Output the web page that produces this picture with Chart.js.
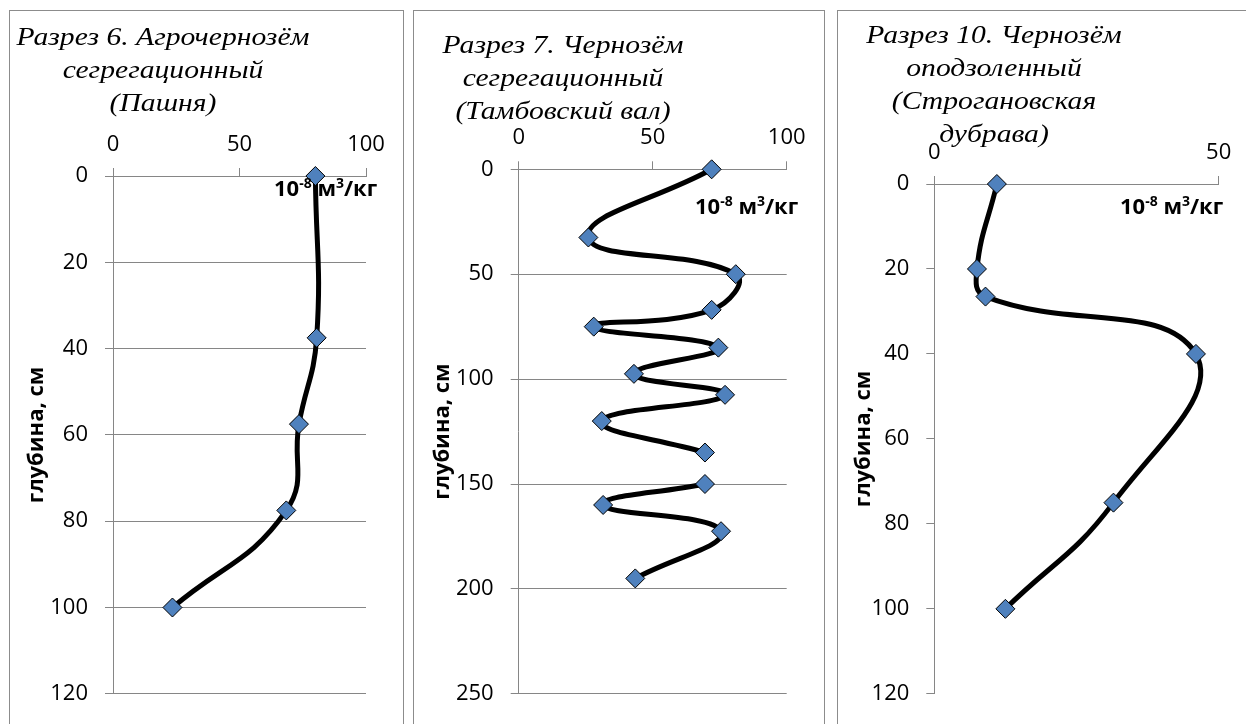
<!DOCTYPE html>
<html><head><meta charset="utf-8">
<script src="https://cdn.jsdelivr.net/npm/chart.js@4/dist/chart.umd.min.js"></script>
<style>
html,body{margin:0;padding:0;background:#fff;width:1246px;height:724px;overflow:hidden;position:relative;}
.panel{position:absolute;top:10px;height:760px;border:1px solid #8c8c8c;box-sizing:border-box;}
canvas{position:absolute;top:0;}
.title{position:absolute;width:400px;text-align:center;font-family:"Liberation Serif","Times New Roman",serif;font-style:italic;font-size:26px;line-height:33px;color:#000;white-space:nowrap;transform:scaleX(1.14);transform-origin:50% 0;}
.unit{position:absolute;font-family:"Open Sans",sans-serif;font-weight:bold;font-size:22px;color:#000;white-space:nowrap;line-height:22px;}
.unit sup{font-size:14px;line-height:0;vertical-align:8px;}
</style></head><body>
<div class="panel" style="left:9px;width:395px;"></div>
<div class="panel" style="left:413px;width:412px;"></div>
<div class="panel" style="left:837px;width:420px;"></div>
<canvas id="c1" width="410" height="724" style="left:0px"></canvas>
<canvas id="c2" width="418" height="724" style="left:410px"></canvas>
<canvas id="c3" width="416" height="724" style="left:830px"></canvas>
<div class="title" style="left:-37px;top:20px;">Разрез 6. Агрочернозём<br>сегрегационный<br>(Пашня)</div>
<div class="title" style="left:363px;top:28px;">Разрез 7. Чернозём<br>сегрегационный<br>(Тамбовский вал)</div>
<div class="title" style="left:794px;top:18px;">Разрез 10. Чернозём<br>оподзоленный<br>(Строгановская<br>дубрава)</div>
<div class="unit" style="left:274px;top:176px;">10<sup>-8</sup> м<sup>3</sup>/кг</div>
<div class="unit" style="left:695px;top:194px;">10<sup>-8</sup> м<sup>3</sup>/кг</div>
<div class="unit" style="left:1120px;top:194px;">10<sup>-8</sup> м<sup>3</sup>/кг</div>
<script>
// Разрез 6
const depth6 = [0, 37.5, 57.5, 77.5, 100];
const val6   = [80, 80.5, 73.5, 68.5, 23.5];
// Разрез 7 (null marks the break in the line between 135 and 150 cm)
const depth7 = [0, 32.5, 50, 67, 75, 85, 97.5, 107.5, 120, 135, null, 150, 160, 172.5, 195];
const val7   = [72, 26, 81, 72, 28, 74.5, 43, 77, 31, 69.5, null, 69.5, 31.5, 75.5, 43.5];
// Разрез 10
const depth10 = [0, 20, 26.5, 40, 75, 100];
const val10   = [11, 7.5, 9, 46, 31.5, 12.5];

const xTicks6 = [0, 50, 100];
const yTicks6 = [0, 20, 40, 60, 80, 100, 120];
const xTicks7 = [0, 50, 100];
const yTicks7 = [0, 50, 100, 150, 200, 250];
const xTicks10 = [0, 50];
const yTicks10 = [0, 20, 40, 60, 80, 100, 120];

const yTitle = 'глубина, см';
const GRID = '#868686';

function makeChart(id, xs, ys, xTicks, yTicks, box) {
  const cv = document.getElementById(id);
  const W = cv.width, H = cv.height;
  new Chart(cv, {
    type: 'scatter',
    data: { datasets: [{
      data: xs.map((x, i) => ({ x: x, y: ys[i] })),
      showLine: true, spanGaps: false, borderColor: '#000', borderWidth: 5, tension: 0.45,
      pointStyle: 'rectRot', pointRadius: 9.5, pointHoverRadius: 9.5,
      pointBackgroundColor: '#4F81BD', pointBorderColor: '#000', pointBorderWidth: 1,
      clip: false
    }]},
    options: {
      responsive: false, animation: false, devicePixelRatio: 1, events: [],
      layout: { padding: { left: 0, top: 0, right: W - box.right, bottom: H - box.bottom } },
      plugins: { legend: { display: false }, tooltip: { enabled: false } },
      scales: {
        x: {
          type: 'linear', position: 'top',
          min: xTicks[0], max: xTicks[xTicks.length - 1],
          afterBuildTicks: s => { s.ticks = xTicks.map(v => ({ value: v })); },
          afterFit: s => { s.height = box.top; },
          grid: { drawOnChartArea: false, drawTicks: true, tickLength: 8, color: GRID },
          border: { color: GRID },
          ticks: { font: { family: 'Open Sans', size: 22 }, color: '#000', padding: 10, maxRotation: 0 }
        },
        y: {
          type: 'linear', reverse: true,
          min: yTicks[0], max: yTicks[yTicks.length - 1],
          afterBuildTicks: s => { s.ticks = yTicks.map(v => ({ value: v })); },
          afterFit: s => { s.width = box.left; },
          grid: { drawOnChartArea: box.grid, drawTicks: true, tickLength: 8, color: GRID },
          border: { color: GRID },
          ticks: { font: { family: 'Open Sans', size: 22 }, color: '#000', padding: 17 },
          title: { display: true, text: yTitle, color: '#000',
                   font: { family: 'Open Sans', size: 22, weight: 'bold' },
                   padding: { top: box.tpad, bottom: 0 } }
        }
      }
    }
  });
}

makeChart('c1', val6, depth6, xTicks6, yTicks6, { left: 113, right: 366, top: 176, bottom: 705, grid: true, tpad: 23.8 });
makeChart('c2', val7, depth7, xTicks7, yTicks7, { left: 108.7, right: 376.7, top: 169.3, bottom: 704.7, grid: true, tpad: 19.8 });
makeChart('c3', val10, depth10, xTicks10, yTicks10, { left: 104.3, right: 388.7, top: 184, bottom: 703.7, grid: false, tpad: 20.8 });
</script>
</body></html>
